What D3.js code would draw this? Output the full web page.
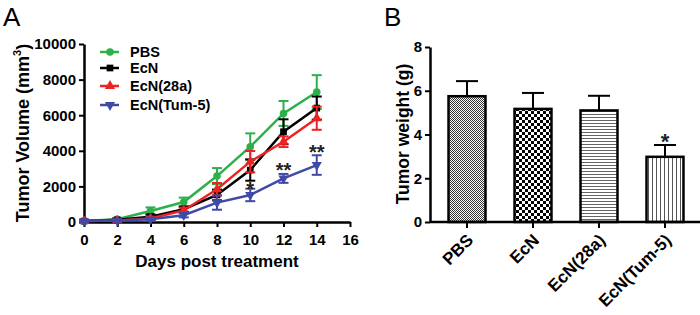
<!DOCTYPE html>
<html>
<head>
<meta charset="utf-8">
<script src="https://cdn.jsdelivr.net/npm/d3@7"></script>
<style>
  body { margin: 0; background: #fff; }
  svg text { font-family: "Liberation Sans", Arial, sans-serif; }
</style>
</head>
<body>
<svg id="drawing_region"></svg>
<script>
// ---- panel A data ----
const days = [0, 2, 4, 6, 8, 10, 12, 14];
const groups = ["PBS", "EcN", "EcN(28a)", "EcN(Tum-5)"];
const colors = ["#2bb04a", "#000000", "#ee2222", "#3f4aa8"];
const pbsMean = [50, 150, 620, 1120, 2580, 4230, 6100, 7300];
const pbsErr  = [30, 80, 200, 250, 450, 750, 700, 950];
const ecnMean = [50, 120, 300, 720, 1520, 2920, 5070, 6400];
const ecnErr  = [30, 60, 120, 150, 300, 600, 700, 650];
const e28Mean = [50, 80, 200, 650, 1840, 3390, 4510, 5830];
const e28Err  = [30, 50, 100, 150, 350, 600, 300, 650];
const tumMean = [50, 80, 150, 380, 1090, 1520, 2450, 3200];
const tumErr  = [30, 50, 80, 120, 400, 350, 250, 550];
const xTicksA = [0, 2, 4, 6, 8, 10, 12, 14, 16];
const yTicksA = [0, 2000, 4000, 6000, 8000, 10000];
const starsA = [{day: 10, text: "*", v: 1900}, {day: 12, text: "**", v: 2950}, {day: 14, text: "**", v: 4000}];

// ---- panel B data ----
const weights = [5.75, 5.17, 5.1, 2.98];
const weightErr = [0.69, 0.73, 0.67, 0.54];
const yTicksB = [0, 2, 4, 6, 8];
const patterns = ["finecheck", "check", "hlines", "vlines"];

const svg = d3.select("#drawing_region").attr("width", 700).attr("height", 315);

// patterns
const defs = svg.append("defs");
let p = defs.append("pattern").attr("id", "finecheck").attr("width", 2).attr("height", 2).attr("patternUnits", "userSpaceOnUse");
p.append("rect").attr("width", 2).attr("height", 2).attr("fill", "#fff");
p.append("rect").attr("width", 1).attr("height", 1).attr("fill", "#333");
p.append("rect").attr("x", 1).attr("y", 1).attr("width", 1).attr("height", 1).attr("fill", "#333");
p = defs.append("pattern").attr("id", "check").attr("width", 6).attr("height", 6).attr("patternUnits", "userSpaceOnUse");
p.append("rect").attr("width", 6).attr("height", 6).attr("fill", "#fff");
p.append("rect").attr("width", 3).attr("height", 3).attr("fill", "#000");
p.append("rect").attr("x", 3).attr("y", 3).attr("width", 3).attr("height", 3).attr("fill", "#000");
p = defs.append("pattern").attr("id", "hlines").attr("width", 4).attr("height", 3).attr("patternUnits", "userSpaceOnUse");
p.append("rect").attr("width", 4).attr("height", 3).attr("fill", "#fff");
p.append("rect").attr("width", 4).attr("height", 1).attr("fill", "#666");
p = defs.append("pattern").attr("id", "vlines").attr("width", 4).attr("height", 4).attr("patternUnits", "userSpaceOnUse");
p.append("rect").attr("width", 4).attr("height", 4).attr("fill", "#fff");
p.append("rect").attr("width", 1).attr("height", 4).attr("fill", "#555");

// ===== Panel A =====
const xA = d3.scaleLinear().domain([0, 16]).range([84, 350]);
const yA = d3.scaleLinear().domain([0, 10000]).range([222, 44]);

const gA = svg.append("g");
gA.append("text").attr("x", 3).attr("y", 26).attr("font-size", 26).text("A");

const axA_x = gA.append("g").attr("transform", "translate(0,222)")
  .call(d3.axisBottom(xA).tickValues(xTicksA).tickSize(5).tickSizeOuter(0));
const axA_y = gA.append("g").attr("transform", "translate(84,0)")
  .call(d3.axisLeft(yA).tickValues(yTicksA).tickFormat(d3.format("d")).tickSize(5).tickSizeOuter(0));
[axA_x, axA_y].forEach(a => {
  a.select(".domain").attr("stroke-width", 2.5);
  a.selectAll(".tick line").attr("stroke-width", 2);
  a.selectAll(".tick text").attr("font-size", 15).attr("font-weight", "bold").attr("fill", "#000");
});
axA_x.selectAll(".tick text").attr("dy", "1.0em");

gA.append("text").attr("x", 217).attr("y", 267).attr("text-anchor", "middle")
  .attr("font-size", 17).attr("font-weight", "bold").text("Days post treatment");
const yl = gA.append("text").attr("transform", "translate(29,133) rotate(-90)").attr("text-anchor", "middle")
  .attr("font-size", 18).attr("font-weight", "bold");
yl.append("tspan").text("Tumor Volume (mm");
yl.append("tspan").attr("font-size", 11).attr("dy", -8).text("3");
yl.append("tspan").attr("dy", 8).text(")");

const series = [
  {name: groups[0], mean: pbsMean, err: pbsErr, color: colors[0], sym: d3.symbolCircle},
  {name: groups[1], mean: ecnMean, err: ecnErr, color: colors[1], sym: d3.symbolSquare},
  {name: groups[2], mean: e28Mean, err: e28Err, color: colors[2], sym: d3.symbolTriangle},
  {name: groups[3], mean: tumMean, err: tumErr, color: colors[3], sym: d3.symbolTriangle, flip: true}
];

const line = d3.line().x((d, i) => xA(days[i])).y(d => yA(d));

series.forEach(s => {
  const g = gA.append("g");
  g.append("path").datum(s.mean).attr("d", line).attr("fill", "none")
    .attr("stroke", s.color).attr("stroke-width", 2.5);
  days.forEach((d, i) => {
    const x = xA(d), y1 = yA(s.mean[i] + s.err[i]), y0 = yA(Math.max(0, s.mean[i] - s.err[i]));
    g.append("line").attr("x1", x).attr("x2", x).attr("y1", y1).attr("y2", y0).attr("stroke", s.color).attr("stroke-width", 2);
    g.append("line").attr("x1", x - 5).attr("x2", x + 5).attr("y1", y1).attr("y2", y1).attr("stroke", s.color).attr("stroke-width", 2);
    g.append("line").attr("x1", x - 5).attr("x2", x + 5).attr("y1", y0).attr("y2", y0).attr("stroke", s.color).attr("stroke-width", 2);
    g.append("path").attr("d", d3.symbol().type(s.sym).size(45)())
      .attr("transform", `translate(${x},${yA(s.mean[i])})` + (s.flip ? " rotate(180)" : ""))
      .attr("fill", s.color);
  });
});

starsA.forEach(st => {
  gA.append("text").attr("x", xA(st.day)).attr("y", yA(st.v) + 8).attr("text-anchor", "middle")
    .attr("font-size", 20).attr("font-weight", "bold").attr("fill", "#222").text(st.text);
});

// legend
series.forEach((s, i) => {
  const ly = [52, 68, 86, 105][i];
  gA.append("line").attr("x1", 100).attr("x2", 119).attr("y1", ly).attr("y2", ly).attr("stroke", s.color).attr("stroke-width", 2.5);
  gA.append("path").attr("d", d3.symbol().type(s.sym).size(45)())
    .attr("transform", `translate(110,${ly})` + (s.flip ? " rotate(180)" : "")).attr("fill", s.color);
  gA.append("text").attr("x", 130).attr("y", ly + 5).attr("font-size", 14.5).attr("font-weight", "bold").text(s.name);
});

// ===== Panel B =====
const xB = d3.scaleBand().domain(groups).range([434, 698]).paddingInner(0.44).paddingOuter(0.22);
const yB = d3.scaleLinear().domain([0, 8]).range([222, 47]);

const gB = svg.append("g");
gB.append("text").attr("x", 384).attr("y", 26).attr("font-size", 26).text("B");

gB.selectAll(".bar").data(weights).enter().append("rect")
  .attr("x", (d, i) => xB(groups[i]))
  .attr("y", d => yB(d))
  .attr("width", xB.bandwidth())
  .attr("height", d => yB(0) - yB(d))
  .attr("fill", (d, i) => `url(#${patterns[i]})`)
  .attr("stroke", "#000").attr("stroke-width", 2.5);

weights.forEach((w, i) => {
  const cx = xB(groups[i]) + xB.bandwidth() / 2;
  const top = yB(w + weightErr[i]);
  gB.append("line").attr("x1", cx).attr("x2", cx).attr("y1", yB(w)).attr("y2", top).attr("stroke", "#000").attr("stroke-width", 2);
  gB.append("line").attr("x1", cx - 11).attr("x2", cx + 11).attr("y1", top).attr("y2", top).attr("stroke", "#000").attr("stroke-width", 2);
});
gB.append("text").attr("x", xB(groups[3]) + xB.bandwidth() / 2).attr("y", yB(weights[3] + weightErr[3]) + 4)
  .attr("text-anchor", "middle").attr("font-size", 22).attr("font-weight", "bold").attr("fill", "#222").text("*");

const axB_x = gB.append("g").attr("transform", "translate(0,222)")
  .call(d3.axisBottom(xB).tickSize(6).tickSizeOuter(0));
axB_x.select(".domain").attr("d", "M430,0H700");
const axB_y = gB.append("g").attr("transform", "translate(430,0)")
  .call(d3.axisLeft(yB).tickValues(yTicksB).tickSize(5).tickSizeOuter(0));
[axB_x, axB_y].forEach(a => {
  a.select(".domain").attr("stroke-width", 2.5);
  a.selectAll(".tick line").attr("stroke-width", 2);
  a.selectAll(".tick text").attr("font-size", 15).attr("font-weight", "bold").attr("fill", "#000");
});
axB_x.selectAll(".tick text").attr("font-size", 17).attr("text-anchor", "end")
  .attr("transform", "translate(3,15) rotate(-45)").attr("dy", "0.35em").attr("y", 0).attr("x", 0);

gB.append("text").attr("transform", "translate(409,134) rotate(-90)").attr("text-anchor", "middle")
  .attr("font-size", 17.5).attr("font-weight", "bold").text("Tumor weight (g)");
</script>
</body>
</html>
